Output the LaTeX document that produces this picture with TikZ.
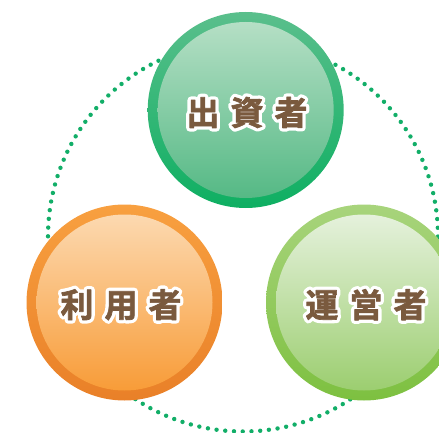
\documentclass[tikz,border=0pt]{standalone}
\usepackage{fontspec}
\usetikzlibrary{positioning}
\newfontfamily\jpfont[FakeBold=2]{Noto Sans CJK JP Bold}
\newfontfamily\rimfont[FakeBold=22]{Noto Sans CJK JP Bold}
\definecolor{labelbrown}{HTML}{7A5A3E}
\definecolor{dotgreen}{HTML}{12AE68}
% thick white copy under the brown text, round joins
\newcommand{\rimtext}[1]{\special{pdf:code 1 j}\makebox[0pt][l]{\color{white}\rimfont\fontsize{33pt}{33pt}\selectfont #1}{\color{labelbrown}\jpfont\fontsize{33pt}{33pt}\selectfont #1}}
\begin{document}
\begin{tikzpicture}[x=1pt,y=-1pt,node distance=2cm,on grid,
		ring node/.style={circle,minimum size=196pt,inner sep=0pt},
		face node/.style={circle,minimum size=176pt,inner sep=0pt},
		label node/.style={inner sep=0pt},
		dot ring/.style={draw=dotgreen,line width=4.4pt,line cap=round,dash pattern=on 0pt off 8.75pt}]
	\useasboundingbox (0,0) rectangle (439,433);
	\clip (0,0) rectangle (439,433);
	\draw[dot ring] (243,236.5) circle (195pt);

	\node[ring node,top color={rgb,255:red,90;green,191;blue,140},bottom color={rgb,255:red,14;green,175;blue,98}] (investor) at (245.7,110) {};
	\node[ring node,top color={rgb,255:red,248;green,160;blue,64},bottom color={rgb,255:red,233;green,128;blue,40}] (user) [below left=192.5pt and 121.2pt of investor] {};
	\node[ring node,top color={rgb,255:red,168;green,212;blue,124},bottom color={rgb,255:red,125;green,192;blue,64}] (operator) [right=239.5pt of user] {};

	\node[face node,top color={rgb,255:red,181;green,223;blue,197},bottom color={rgb,255:red,85;green,185;blue,133}] (investorface) at (investor) {};
	\node[face node,top color={rgb,255:red,252;green,217;blue,176},bottom color={rgb,255:red,248;green,156;blue,56}] (userface) at (user) {};
	\node[face node,top color={rgb,255:red,229;green,241;blue,220},bottom color={rgb,255:red,156;green,206;blue,112}] (operatorface) at (operator) {};

	\node[label node] (investorlabel) at (247,112.5) {\rimtext{出\kern11pt 資\kern11pt 者}};
	\node[label node] (userlabel) at (121,304.7) {\rimtext{利\kern11pt 用\kern11pt 者}};
	\node[label node] (operatorlabel) at (366,304.7) {\rimtext{運\kern11pt 営\kern11pt 者}};
\end{tikzpicture}
\end{document}
